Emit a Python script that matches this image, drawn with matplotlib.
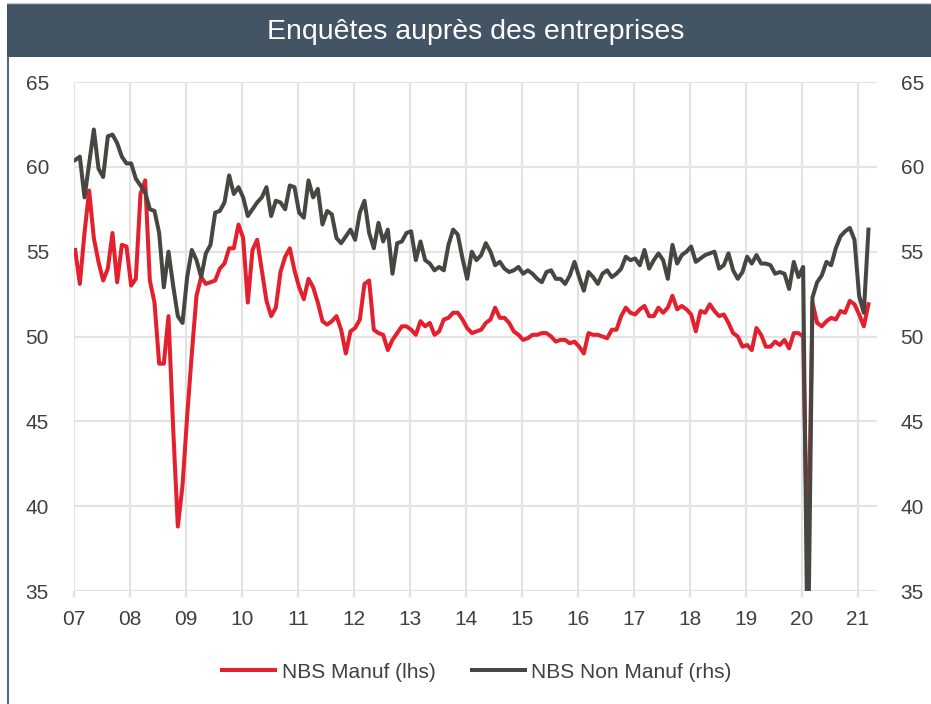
import numpy as np
import matplotlib.pyplot as plt
from matplotlib.patches import Rectangle
from matplotlib.lines import Line2D

plt.rcParams['font.family'] = ['Liberation Sans', 'DejaVu Sans']

# NBS PMI, monthly from Jan 2007 to Mar 2021
start_year = 2007
manuf = [
    55.1, 53.1, 56.1, 58.6, 55.8, 54.4, 53.3, 54.0, 56.1, 53.2, 55.4, 55.3,
    53.0, 53.4, 58.4, 59.2, 53.3, 52.0, 48.4, 48.4, 51.2, 44.6, 38.8, 41.2,
    45.3, 49.0, 52.4, 53.5, 53.1, 53.2, 53.3, 54.0, 54.3, 55.2, 55.2, 56.6,
    55.8, 52.0, 55.1, 55.7, 53.9, 52.1, 51.2, 51.7, 53.8, 54.7, 55.2, 53.9,
    52.9, 52.2, 53.4, 52.9, 52.0, 50.9, 50.7, 50.9, 51.2, 50.4, 49.0, 50.3,
    50.5, 51.0, 53.1, 53.3, 50.4, 50.2, 50.1, 49.2, 49.8, 50.2, 50.6, 50.6,
    50.4, 50.1, 50.9, 50.6, 50.8, 50.1, 50.3, 51.0, 51.1, 51.4, 51.4, 51.0,
    50.5, 50.2, 50.3, 50.4, 50.8, 51.0, 51.7, 51.1, 51.1, 50.8, 50.3, 50.1,
    49.8, 49.9, 50.1, 50.1, 50.2, 50.2, 50.0, 49.7, 49.8, 49.8, 49.6, 49.7,
    49.4, 49.0, 50.2, 50.1, 50.1, 50.0, 49.9, 50.4, 50.4, 51.2, 51.7, 51.4,
    51.3, 51.6, 51.8, 51.2, 51.2, 51.7, 51.4, 51.7, 52.4, 51.6, 51.8, 51.6,
    51.3, 50.3, 51.5, 51.4, 51.9, 51.5, 51.2, 51.3, 50.8, 50.2, 50.0, 49.4,
    49.5, 49.2, 50.5, 50.1, 49.4, 49.4, 49.7, 49.5, 49.8, 49.3, 50.2, 50.2,
    50.0, 35.7, 52.0, 50.8, 50.6, 50.9, 51.1, 51.0, 51.5, 51.4, 52.1, 51.9,
    51.3, 50.6, 51.9,
]
non_manuf = [
    60.4, 60.6, 58.2, 60.2, 62.2, 59.9, 59.4, 61.8, 61.9, 61.4, 60.6, 60.2,
    60.2, 59.3, 58.9, 58.5, 57.5, 57.4, 56.1, 52.9, 55.0, 53.0, 51.2, 50.8,
    53.5, 55.1, 54.5, 53.5, 54.9, 55.4, 57.3, 57.4, 57.9, 59.5, 58.4, 58.8,
    58.2, 57.1, 57.5, 57.9, 58.2, 58.8, 57.1, 58.0, 57.9, 57.5, 58.9, 58.8,
    57.3, 57.0, 59.2, 58.2, 58.7, 56.6, 57.4, 57.2, 55.8, 55.5, 55.9, 56.3,
    55.7, 57.3, 58.0, 56.1, 55.2, 56.7, 55.6, 56.3, 53.7, 55.5, 55.6, 56.1,
    56.2, 54.5, 55.6, 54.5, 54.3, 53.9, 54.1, 53.9, 55.4, 56.3, 56.0, 54.6,
    53.4, 55.0, 54.5, 54.8, 55.5, 55.0, 54.2, 54.4, 54.0, 53.8, 53.9, 54.1,
    53.7, 53.9, 53.7, 53.4, 53.2, 53.8, 53.9, 53.4, 53.4, 53.1, 53.6, 54.4,
    53.5, 52.7, 53.8, 53.5, 53.1, 53.7, 53.9, 53.5, 53.7, 54.0, 54.7, 54.5,
    54.6, 54.2, 55.1, 54.0, 54.5, 54.9, 54.5, 53.4, 55.4, 54.3, 54.8, 55.0,
    55.3, 54.4, 54.6, 54.8, 54.9, 55.0, 54.0, 54.2, 54.9, 53.9, 53.4, 53.8,
    54.7, 54.3, 54.8, 54.3, 54.3, 54.2, 53.7, 53.8, 53.7, 52.8, 54.4, 53.5,
    54.1, 29.6, 52.3, 53.2, 53.6, 54.4, 54.2, 55.2, 55.9, 56.2, 56.4, 55.7,
    52.4, 51.4, 56.3,
]
years = list(range(2007, 2022))
year_labels = ['07', '08', '09', '10', '11', '12', '13', '14', '15', '16',
               '17', '18', '19', '20', '21']

RED = '#e4202e'
DARK = '#464741'
GRID = '#e3e3e3'
BAR = '#435565'
TXT = '#404040'

x = start_year + (np.arange(len(manuf)) + 0.25) / 12.0

fig = plt.figure(figsize=(9.31, 7.04), dpi=100)

# bandeau du titre
fig.patches.append(Rectangle((7 / 931, 1 - 57 / 704), 1 - 7 / 931, 54 / 704,
                             transform=fig.transFigure, facecolor=BAR,
                             edgecolor='none', zorder=0))
fig.lines.append(Line2D([7 / 931, 1], [1 - 3 / 704, 1 - 3 / 704],
                        transform=fig.transFigure, color='#c8cdd2', lw=1))
fig.lines.append(Line2D([8 / 931, 8 / 931], [0, 1 - 57 / 704],
                        transform=fig.transFigure, color='#56677a', lw=1.5))
fig.text(476 / 931, 1 - 32 / 704, 'Enquêtes auprès des entreprises',
         color='white', fontsize=20.5, ha='center', va='center')

ax = fig.add_axes([74 / 931, 113 / 704, 803 / 931, 509 / 704])
ax2 = ax.twinx()

l1, = ax.plot(x, manuf, color=RED, lw=2.9, solid_joinstyle='round',
              label='NBS Manuf (lhs)')
l2, = ax2.plot(x, non_manuf, color=DARK, lw=2.9, solid_joinstyle='round',
               label='NBS Non Manuf (rhs)')

for a in (ax, ax2):
    a.set_ylim(35, 65)
    a.set_yticks([35, 40, 45, 50, 55, 60, 65])
    a.set_xlim(2007, 2021.34)
    for s in a.spines.values():
        s.set_visible(False)

ax.set_xticks(years)
ax.set_xticklabels(year_labels)
ax.grid(True, color=GRID, lw=1.5)
ax.set_axisbelow(True)
ax.tick_params(axis='x', length=5, width=1.5, color=GRID, pad=9,
               labelsize=15, labelcolor=TXT)
ax.tick_params(axis='y', length=0, pad=18, labelsize=15, labelcolor=TXT)
ax2.tick_params(axis='y', length=0, pad=17, labelsize=15, labelcolor=TXT)

fig.legend(handles=[l1, l2], loc='center',
           bbox_to_anchor=(477 / 931, 1 - 672 / 704), ncol=2, frameon=False,
           fontsize=15, handlelength=2.55, handletextpad=0.3,
           columnspacing=1.75, labelcolor=TXT)

fig.savefig('out.png', dpi=100)
